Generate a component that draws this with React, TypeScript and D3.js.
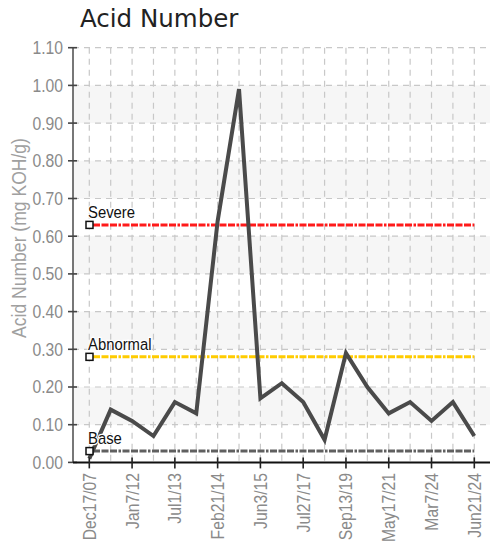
import React from "react";
import * as d3 from "d3";

const dates = ["Dec17/07","p1","Jan7/12","p3","Jul1/13","p5","Feb21/14","p7","Jun3/15","p9","Jul27/17","p11","Sep13/19","p13","May17/21","p15","Mar7/24","p17","Jun21/24"];
const values = [0.01,0.14,0.11,0.07,0.16,0.13,0.64,0.99,0.17,0.21,0.16,0.06,0.29,0.20,0.13,0.16,0.11,0.16,0.07];
const yTicks = [0,0.1,0.2,0.3,0.4,0.5,0.6,0.7,0.8,0.9,1.0,1.1];
const thresholdNames = ["Severe","Abnormal","Base"];
const thresholdValues = [0.63,0.28,0.03];
const thresholdColors = ["#ff1a1a","#ffcc00","#606060"];

const W = 490, H = 549;
const X0 = 73, X1 = 490;
const sans = "'Liberation Sans', Arial, sans-serif";

export default function App() {
  const x = d3.scalePoint<string>().domain(dates).range([89.3, 474.3]);
  const y = d3.scaleLinear().domain([0, 1.1]).range([462.4, 47.7]);
  const line = d3.line<number>().x((_, i) => x(dates[i])!).y(d => y(d));
  const labeled = dates.filter(d => !/^p\d+$/.test(d));
  const bands = [0.1,0.3,0.5,0.7,0.9];
  return (
    <svg width={W} height={H} style={{position:"absolute", left:0, top:0, background:"#fff"}}>
      <text x={80} y={27} fontFamily="'DejaVu Sans', Verdana, sans-serif" fontSize={24.5} fill="#222">Acid Number</text>
      {bands.map(b => (
        <rect key={b} x={X0} y={y(b+0.1)} width={X1-X0} height={y(b)-y(b+0.1)} fill="#f6f6f6" />
      ))}
      {yTicks.slice(1).map(t => (
        <line key={t} x1={X0} x2={X1} y1={y(t)} y2={y(t)} stroke="#c8c8c8" strokeWidth={1.2} strokeDasharray="6,5" />
      ))}
      {dates.map(d => (
        <line key={d} x1={x(d)} x2={x(d)} y1={y(1.1)} y2={y(0)} stroke="#c8c8c8" strokeWidth={1.2} strokeDasharray="6,5" />
      ))}
      {thresholdValues.map((v, i) => (
        <line key={i} x1={93} x2={474.3} y1={y(v)} y2={y(v)} stroke={thresholdColors[i]} strokeWidth={3} strokeDasharray="7,1.5,7,1.5,7,1.5,2.5,1.5" />
      ))}
      <path d={line(values)!} fill="none" stroke="#4a4a4a" strokeWidth={4} strokeLinejoin="miter" />
      {thresholdValues.map((v, i) => (
        <g key={i}>
          <rect x={86} y={y(v)-3.5} width={7} height={7} fill="#fff" stroke="#111" strokeWidth={1.5} />
          <text transform={`translate(88,${y(v)-7}) scale(0.9,1)`} fontFamily={sans} fontSize={16.5} fill="#111" stroke="#fff" strokeWidth={2.5} paintOrder="stroke">{thresholdNames[i]}</text>
        </g>
      ))}
      <line x1={X0} x2={X0} y1={y(1.1)} y2={y(0)} stroke="#555" strokeWidth={1.6} />
      {yTicks.map(t => (
        <g key={t}>
          <line x1={68} x2={77} y1={y(t)} y2={y(t)} stroke="#444" strokeWidth={1.6} />
          <text transform={`translate(63,${y(t)}) scale(0.85,1)`} dy="0.35em" textAnchor="end" fontFamily={sans} fontSize={18.5} fill="#8a8a8a">{t.toFixed(2)}</text>
        </g>
      ))}
      <line x1={X0} x2={W} y1={y(0)} y2={y(0)} stroke="#111" strokeWidth={2} />
      {labeled.map(d => (
        <g key={d}>
          <line x1={x(d)} x2={x(d)} y1={y(0)-5} y2={y(0)+6} stroke="#222" strokeWidth={1.6} />
          <text transform={`translate(${x(d)},473) rotate(-90) scale(0.85,1)`} dy="0.35em" textAnchor="end" fontFamily={sans} fontSize={18.5} fill="#8a8a8a">{d}</text>
        </g>
      ))}
      <text transform={`translate(26,238) rotate(-90) scale(0.9,1)`} textAnchor="middle" fontFamily={sans} fontSize={19.5} fill="#a0a0a0">Acid Number (mg KOH/g)</text>
    </svg>
  );
}
